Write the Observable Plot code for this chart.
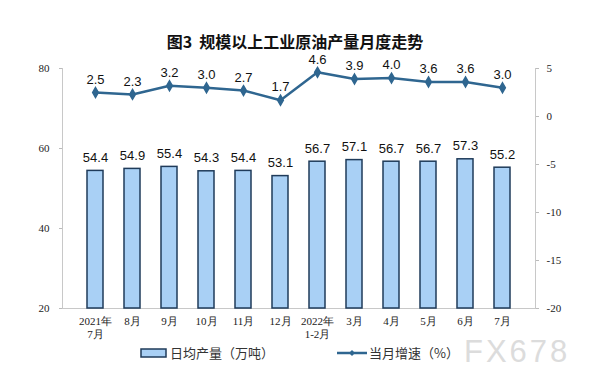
<!DOCTYPE html>
<html><head><meta charset="utf-8">
<script src="https://cdn.jsdelivr.net/npm/d3@7"></script>
<script src="https://cdn.jsdelivr.net/npm/@observablehq/plot@0.6"></script>
<style>
body{margin:0;background:#fff;width:590px;height:386px;position:relative;overflow:hidden}
#title{position:absolute;left:0;top:29px;width:590px;text-align:center;font:600 16px "Noto Sans CJK SC",sans-serif;color:#111}
#chart{position:absolute;left:0;top:50px}
#legend{position:absolute;top:343px;left:0;width:590px;font:13px "Noto Sans CJK SC",sans-serif;color:#333}
.lg{position:absolute;display:flex;align-items:center}
#wm{position:absolute;left:464px;top:334px;font:31px "Liberation Sans",sans-serif;color:#dcdcdc;letter-spacing:3px}
</style></head><body>
<div id="title">图3&nbsp;&nbsp;规模以上工业原油产量月度走势</div>
<div id="chart"></div>
<div id="legend">
  <div class="lg" style="left:140px"><svg width="28" height="12"><rect x="1" y="2" width="25" height="8" fill="#a9d0f5" stroke="#1f3b5a" stroke-width="1.5"/></svg><span style="margin-left:2px">日均产量（万吨）</span></div>
  <div class="lg" style="left:337px"><svg width="30" height="12"><line x1="0" y1="6" x2="30" y2="6" stroke="#2f6690" stroke-width="2.5"/><path d="M15 3 L18 6 L15 9 L12 6Z" fill="#2f6690"/></svg><span style="margin-left:2px">当月增速（%）</span></div>
</div>
<div id="wm">FX678</div>
<script>
const months = ["2021年\n7月","8月","9月","10月","11月","12月","2022年\n1-2月","3月","4月","5月","6月","7月"];
const output = [54.4,54.9,55.4,54.3,54.4,53.1,56.7,57.1,56.7,56.7,57.3,55.2];
const growth = [2.5,2.3,3.2,3.0,2.7,1.7,4.6,3.9,4.0,3.6,3.6,3.0];
const leftTicks = [20,40,60,80];
const rightTicks = [-20,-15,-10,-5,0,5];

// map right axis (-20..5) onto left scale (20..80)
const toL = v => 20 + (v + 20) * 60 / 25;
const toR = y => (y - 20) * 25 / 60 - 20;

const data = months.map((m,i) => ({m, out: output[i], g: growth[i], gy: toL(growth[i])}));

const plot = Plot.plot({
  width: 590, height: 290,
  marginLeft: 62, marginRight: 55, marginTop: 18, marginBottom: 32,
  style: {fontFamily: "Liberation Serif, serif", fontSize: "11px", color: "#222"},
  x: {domain: months, padding: 0.56, label: null},
  y: {domain: [20, 80], label: null},
  marks: [
    Plot.axisX({tickSize: 0, tickPadding: 8, lineHeight: 1.15, fontFamily: "Liberation Serif, serif", fontSize: 11}),
    Plot.axisY({ticks: leftTicks, tickSize: 3, tickPadding: 10, stroke: "#bbb", color: "#222"}),
    Plot.axisY({anchor: "right", ticks: rightTicks.map(toL), tickFormat: d => String(Math.round(toR(d))), tickSize: 3, tickPadding: 8, stroke: "#bbb"}),
    Plot.frame({anchor: "left", stroke: "#c8c8c8"}),
    Plot.frame({anchor: "right", stroke: "#c8c8c8"}),
    Plot.ruleY([20], {stroke: "#c8c8c8"}),
    Plot.barY(data, {x: "m", y1: 20, y2: "out", fill: "#a9d0f5", stroke: "#1f3b5a", strokeWidth: 1.5}),
    Plot.text(data, {x: "m", y: "out", text: d => d.out.toFixed(1), dy: -13, fontFamily: "Liberation Sans, Arial, sans-serif", fontSize: 13, fill: "#111"}),
    Plot.line(data, {x: "m", y: "gy", stroke: "#2f6690", strokeWidth: 2.5}),
    Plot.dot(data, {x: "m", y: "gy", symbol: "diamond", r: 3, fill: "#2f6690", stroke: "#2f6690"}),
    Plot.text(data, {x: "m", y: "gy", text: d => d.g.toFixed(1), dy: -13, fontFamily: "Liberation Sans, Arial, sans-serif", fontSize: 13, fill: "#111"})
  ]
});
document.getElementById("chart").appendChild(plot);
</script>
</body></html>
